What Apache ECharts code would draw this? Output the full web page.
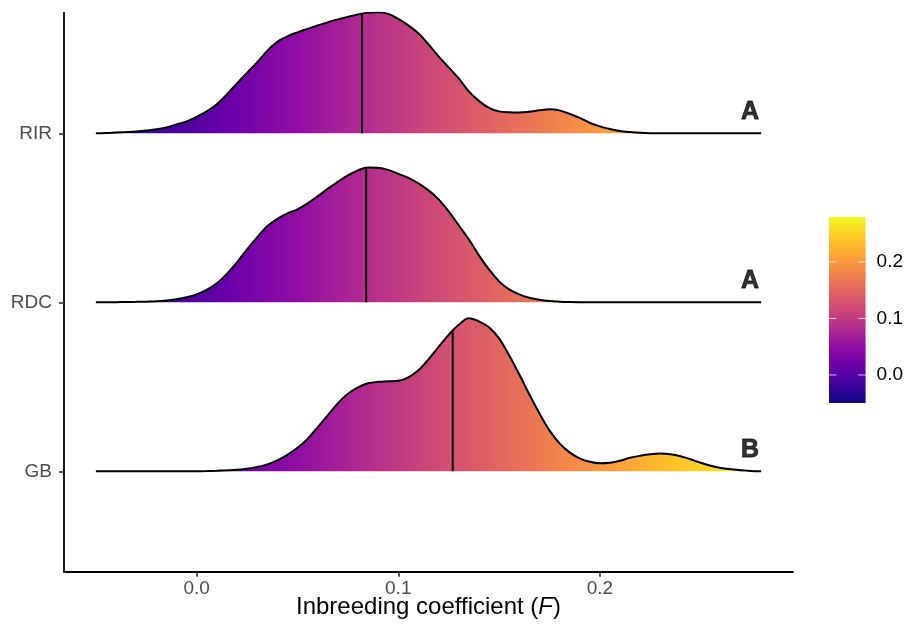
<!DOCTYPE html>
<html><head><meta charset="utf-8">
<script src="https://cdn.jsdelivr.net/npm/echarts@6/dist/echarts.min.js"></script>
<style>html,body{margin:0;padding:0;background:#fff}#c{width:906px;height:633px}</style>
</head><body><div id="c"></div>
<script>
// ---- data ----
const categories = ['GB', 'RDC', 'RIR'];
const letters = ['B', 'A', 'A'];
const fGrid = [-0.050, -0.045, -0.040, -0.035, -0.030, -0.025, -0.020, -0.015, -0.010, -0.005,
  0.000, 0.005, 0.010, 0.015, 0.020, 0.025, 0.030, 0.035, 0.040, 0.045,
  0.050, 0.055, 0.060, 0.065, 0.070, 0.075, 0.080, 0.085, 0.090, 0.095,
  0.100, 0.105, 0.110, 0.115, 0.120, 0.125, 0.130, 0.135, 0.140, 0.145,
  0.150, 0.155, 0.160, 0.165, 0.170, 0.175, 0.180, 0.185, 0.190, 0.195,
  0.200, 0.205, 0.210, 0.215, 0.220, 0.225, 0.230, 0.235, 0.240, 0.245,
  0.250, 0.255, 0.260, 0.265, 0.270, 0.275, 0.280];
// relative ridge heights (scaled density)
const densGB = [0, 0, 0, 0, 0, 0, 0, 0, 0, 0,
  0.1, 0.3, 0.6, 1, 1.5, 2.7, 4.3, 7, 11, 16.5,
  23.5, 32.5, 44, 56, 68, 77.5, 84, 88, 89.5, 90,
  90.5, 94, 101, 112, 124.5, 136.5, 146.5, 153, 150, 144,
  133, 116, 97, 77, 58, 41, 28, 19, 13, 9.5,
  8, 8.5, 10.5, 13.5, 15.5, 17, 17.7, 17, 15, 12,
  8.5, 5.5, 3.3, 2, 1, 0.4, 0];
const densRDC = [0, 0.1, 0.2, 0.4, 0.5, 0.7, 1, 1.8, 3, 5,
  8, 12.5, 19, 28.5, 40, 53, 65, 76, 83.5, 89,
  93, 99, 106, 113.5, 120.5, 127, 132, 134.8, 134.5, 132.5,
  128.5, 124.5, 119, 112, 103, 91, 77, 63, 47, 33,
  21, 13, 8, 4.5, 2.5, 1.3, 0.7, 0.3, 0.1, 0,
  0, 0, 0, 0, 0, 0, 0, 0, 0, 0,
  0, 0, 0, 0, 0, 0, 0];
const densRIR = [0, 0.3, 0.8, 1.3, 1.9, 2.8, 4, 6, 9, 12,
  16.5, 22, 29, 39, 50, 60.5, 71, 82.5, 91.5, 97,
  101, 104.5, 108, 111, 114, 116.5, 119, 120.5, 121, 119.5,
  114.5, 108, 100, 89, 77, 66, 55, 42, 32.5, 25.5,
  22, 21, 20.8, 21.5, 23, 24, 23, 19.5, 15.5, 10.5,
  7, 4.3, 2.3, 1.3, 0.6, 0.2, 0, 0, 0, 0,
  0, 0, 0, 0, 0, 0, 0];
const medians = [0.127, 0.0841, 0.0820];
const xTicks = [0, 0.1, 0.2];
const colorTicks = [0, 0.1, 0.2];
const colorRange = [-0.0496, 0.2794];

// ---- style helpers ----
const ridgeScale = 1 / 169;
const plasma = ['#0d0887', '#41049d', '#6a00a8', '#8f0da4', '#b12a90', '#cc4778',
  '#e16462', '#f2844b', '#fca636', '#fcce25', '#f0f921'];
const stops = plasma.map((c, i) => ({ offset: i / (plasma.length - 1), color: c }));
const FONT = '"Liberation Sans", Arial, Helvetica, sans-serif';
const dens = [densGB, densRDC, densRIR];

function interp(arr, x) {
  for (let k = 0; k < fGrid.length - 1; k++) {
    if (x >= fGrid[k] && x <= fGrid[k + 1]) {
      const t = (x - fGrid[k]) / (fGrid[k + 1] - fGrid[k]);
      return arr[k] + t * (arr[k + 1] - arr[k]);
    }
  }
  return 0;
}

const series = [];
categories.forEach((cat, i) => {
  const base = i + 1;
  series.push({
    type: 'line', silent: true, symbol: 'none', smooth: 0.35,
    data: fGrid.map((f, k) => [f, base + dens[i][k] * ridgeScale]),
    lineStyle: { color: '#000', width: 2 },
    areaStyle: { opacity: 1, origin: base, color: new echarts.graphic.LinearGradient(0, 0, 1, 0, stops) },
    z: 2
  });
  series.push({
    type: 'line', silent: true, symbol: 'none',
    data: [[medians[i], base], [medians[i], base + interp(dens[i], medians[i]) * ridgeScale]],
    lineStyle: { color: '#000', width: 2 }, z: 3
  });
  series.push({
    type: 'scatter', silent: true, symbolSize: 0,
    data: [[0.279, base + 0.125]],
    label: {
      show: true, position: 'left', distance: 0,
      formatter: letters[i],
      fontFamily: FONT, fontWeight: 'bold', fontSize: 25, color: '#000',
      textBorderColor: '#000', textBorderWidth: 0.8
    }, z: 4
  });
});

// colour bar
series.push({
  type: 'custom', xAxisIndex: 1, yAxisIndex: 1, silent: true,
  data: [[0]],
  renderItem: function (params, api) {
    const p0 = api.coord([0, colorRange[1]]);
    const p1 = api.coord([1, colorRange[0]]);
    const children = [{
      type: 'rect',
      shape: { x: p0[0], y: p0[1], width: p1[0] - p0[0], height: p1[1] - p0[1] },
      style: { fill: new echarts.graphic.LinearGradient(0, 1, 0, 0, stops) }
    }];
    const w = p1[0] - p0[0];
    colorTicks.forEach(v => {
      const y = api.coord([0, v])[1];
      children.push({ type: 'line', shape: { x1: p0[0], y1: y, x2: p0[0] + w / 5, y2: y },
        style: { stroke: 'rgba(255,255,255,0.75)', lineWidth: 1 } });
      children.push({ type: 'line', shape: { x1: p1[0] - w / 5, y1: y, x2: p1[0], y2: y },
        style: { stroke: 'rgba(255,255,255,0.75)', lineWidth: 1 } });
    });
    return { type: 'group', children };
  }
});

const chart = echarts.init(document.getElementById('c'), null, { renderer: 'canvas' });
chart.setOption({
  animation: false,
  backgroundColor: '#fff',
  grid: [
    { left: 64, right: 113, top: 12.7, bottom: 61.3 },
    { left: 829, width: 38, top: 217, height: 186 }
  ],
  xAxis: [{
    type: 'value', min: -0.0658, max: 0.2958,
    axisLine: { show: true, onZero: false, lineStyle: { color: '#000', width: 1.8 } },
    axisTick: { show: true, length: 5, lineStyle: { color: '#333', width: 1.6 }, customValues: xTicks },
    axisLabel: { customValues: xTicks, formatter: v => v.toFixed(1), color: '#4d4d4d',
      fontSize: 19, fontFamily: FONT, margin: 8 },
    splitLine: { show: false },
    name: 'Inbreeding coefficient ({i|F})', nameLocation: 'middle', nameGap: 36,
    nameMoveOverlap: false,
    nameTextStyle: { color: '#000', fontSize: 24, fontFamily: FONT, verticalAlign: 'middle',
      rich: { i: { fontStyle: 'italic', fontSize: 24, fontFamily: FONT, color: '#000' } } }
  }, {
    gridIndex: 1, type: 'value', min: 0, max: 1, show: false
  }],
  yAxis: [{
    type: 'value', min: 0.406, max: 3.714,
    axisLine: { show: true, onZero: false, lineStyle: { color: '#000', width: 1.8 } },
    axisTick: { show: true, length: 5, lineStyle: { color: '#333', width: 1.6 }, customValues: [1, 2, 3] },
    axisLabel: { customValues: [1, 2, 3], formatter: v => categories[Math.round(v) - 1] || '',
      color: '#4d4d4d', fontSize: 19, fontFamily: FONT, margin: 12 },
    splitLine: { show: false }
  }, {
    gridIndex: 1, type: 'value', position: 'right', min: colorRange[0], max: colorRange[1],
    axisLine: { show: false }, axisTick: { show: false }, splitLine: { show: false },
    axisLabel: { customValues: colorTicks, formatter: v => v.toFixed(1), color: '#000',
      fontSize: 19, fontFamily: FONT, margin: 11 }
  }],
  series: series
});
</script>
</body></html>
